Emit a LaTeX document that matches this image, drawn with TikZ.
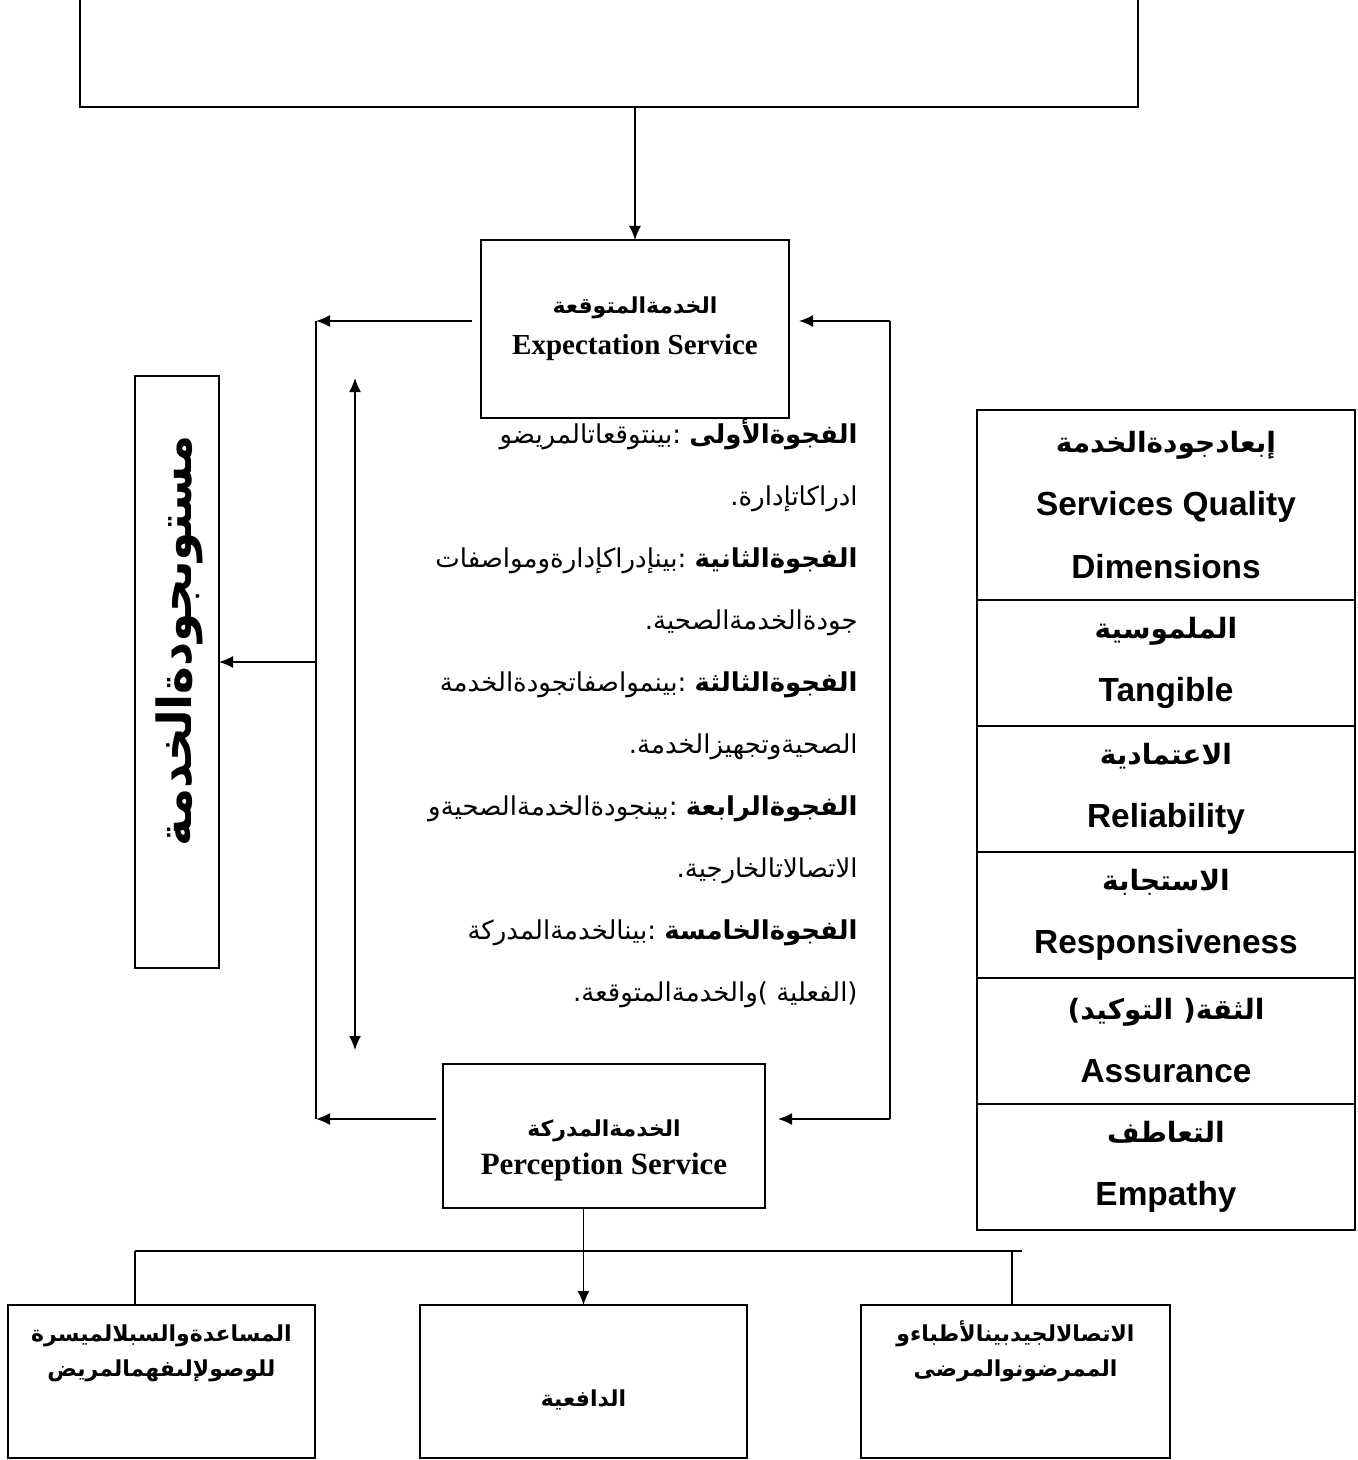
\documentclass[tikz,border=0pt]{standalone}
\usepackage{fontspec}
\setmainfont{Liberation Serif}
\setsansfont{Liberation Sans}
\newfontfamily\arabicfont[Script=Arabic]{DejaVu Sans}
\TeXXeTstate=1
\usepackage{tikz}
\usetikzlibrary{arrows.meta, positioning}
\newcommand{\artxt}[1]{{\arabicfont\beginR #1\endR}}
\tikzstyle{box} = [rectangle, draw=black, line width=0.75pt, inner sep=0pt,
outer sep=0pt, align=center]
\tikzstyle{dimcell} = [rectangle, draw=black, line width=1pt, minimum
width=189pt, minimum height=63pt, inner sep=0pt, outer sep=0pt,
align=center, font=\sffamily\bfseries\fontsize{16.7}{31.5}\selectfont]
\tikzstyle{arrow} = [line width=0.75pt, -{Latex[length=7pt,width=6pt]}]
\tikzstyle{line} = [line width=0.75pt]

\begin{document}
\begin{tikzpicture}[x=0.5pt, y=-0.5pt]
  \useasboundingbox (0,0) rectangle (1358,1460);
  % Nodes of the model
  \node (expect) [box, minimum width=154pt, minimum height=89pt,
                  font=\bfseries\fontsize{14.5}{20.5}\selectfont] at (635,329)
        {{\fontsize{11}{20.5}\selectfont\artxt{الخدمةالمتوقعة}}\\
         Expectation Service};
  \node (percept) [box, minimum width=161pt, minimum height=72pt] at (604,1136) {};
  \node (percepttxt) [align=center, inner sep=0pt,
                      font=\bfseries\fontsize{15.5}{19}\selectfont] at (604,1150)
        {{\fontsize{11}{19}\selectfont\artxt{الخدمةالمدركة}}\\
         Perception Service};
  \node (level) [box, minimum width=42pt, minimum height=296pt] at (177,672) {};
  \node (leveltxt) [rotate=90, font=\bfseries\fontsize{23.5}{28}\selectfont]
        at (179,641) {\artxt{مستوىجودةالخدمة}};
  \node (gaps) [anchor=north east, align=right, inner sep=0pt,
                font=\arabicfont\fontsize{13}{31}\selectfont] at (858,419)
        {\beginR{\bfseries الفجوةالأولى} :بينتوقعاتالمريضو\endR\\
         \beginR ادراكاتإدارة.\endR\\
         \beginR{\bfseries الفجوةالثانية} :بينإدراكإدارةومواصفات\endR\\
         \beginR جودةالخدمةالصحية.\endR\\
         \beginR{\bfseries الفجوةالثالثة} :بينمواصفاتجودةالخدمة\endR\\
         \beginR الصحيةوتجهيزالخدمة.\endR\\
         \beginR{\bfseries الفجوةالرابعة} :بينجودةالخدمةالصحيةو\endR\\
         \beginR الاتصالاتالخارجية.\endR\\
         \beginR{\bfseries الفجوةالخامسة} :بينالخدمةالمدركة\endR\\
         \beginR (الفعلية )والخدمةالمتوقعة.\endR};
  % Dimensions table
  \node (dimhead) [dimcell, minimum height=95pt, anchor=north west] at (977,410)
        {{\fontsize{14}{31.5}\selectfont\artxt{إبعادجودةالخدمة}}\\
         Services Quality\\ Dimensions};
  \node (tang) [dimcell, below=0pt of dimhead]
        {{\fontsize{14}{31.5}\selectfont\artxt{الملموسية}}\\ Tangible};
  \node (relia) [dimcell, below=0pt of tang]
        {{\fontsize{14}{31.5}\selectfont\artxt{الاعتمادية}}\\ Reliability};
  \node (respo) [dimcell, below=0pt of relia]
        {{\fontsize{14}{31.5}\selectfont\artxt{الاستجابة}}\\ Responsiveness};
  \node (assur) [dimcell, below=0pt of respo]
        {{\fontsize{14}{31.5}\selectfont\artxt{الثقة( التوكيد)}}\\ Assurance};
  \node (empat) [dimcell, below=0pt of assur]
        {{\fontsize{14}{31.5}\selectfont\artxt{التعاطف}}\\ Empathy};
  % Bottom boxes
  \node (aid) [box, minimum width=153.5pt, minimum height=76.5pt] at (161.5,1381.5) {};
  \node (aidtxt) [font=\bfseries\fontsize{11}{17.5}\selectfont, align=center]
        at (161.5,1353)
        {\artxt{المساعدةوالسبلالميسرة}\\ \artxt{للوصولإلىفهمالمريض}};
  \node (motiv) [box, minimum width=163.5pt, minimum height=76.5pt] at (583.5,1381.5) {};
  \node (motivtxt) [font=\bfseries\fontsize{11}{17.5}\selectfont]
        at (583.5,1400) {\artxt{الدافعية}};
  \node (comm) [box, minimum width=154.5pt, minimum height=76.5pt] at (1015.5,1381.5) {};
  \node (commtxt) [font=\bfseries\fontsize{11}{17.5}\selectfont, align=center]
        at (1015.5,1351)
        {\artxt{الاتصالالجيدبينالأطباءو}\\ \artxt{الممرضونوالمرضى}};
  % Points for the lines
  \coordinate (topl) at (80,0);
  \coordinate (topr) at (1138,0);
  \coordinate (barl) at (80,107);
  \coordinate (barr) at (1138,107);
  \coordinate (ltop) at (316,321);
  \coordinate (lmid) at (316,662);
  \coordinate (lbot) at (316,1119);
  \coordinate (rtop) at (890,321);
  \coordinate (rbot) at (890,1119);
  \coordinate (dtop) at (355,378);
  \coordinate (dbot) at (355,1050);
  \coordinate (busl) at (135,1251);
  \coordinate (busr) at (1022,1251);
  \coordinate (tapr) at (1012,1251);
  % Connections
  \draw [line] (topl) -- (barl) -- (barr) -- (topr);
  \draw [arrow] (expect.north |- barl) -- (expect.north);
  \draw [arrow] ([yshift=4pt]expect.west) ++(-4.5pt,0) -- (ltop);
  \draw [line] (ltop) -- (lbot);
  \draw [arrow] (percept.west |- lbot) ++(-3.5pt,0) -- (lbot);
  \draw [arrow] (lmid) -- (lmid -| level.east);
  \draw [line] (rtop) -- (rbot);
  \draw [arrow, shorten >=5pt] (rtop) -- (rtop -| expect.east);
  \draw [arrow, shorten >=6.5pt] (rbot) -- (rbot -| percept.east);
  \draw [arrow, {Latex[length=7pt,width=6pt]}-{Latex[length=7pt,width=6pt]}]
        (dtop) -- (dbot);
  \draw [arrow] (percept.south -| motiv.north) -- (motiv.north);
  \draw [line] (busl) -- (busr);
  \draw [line] (busl) -- (busl |- aid.north);
  \draw [line] (tapr) -- (tapr |- comm.north);
\end{tikzpicture}
\end{document}
